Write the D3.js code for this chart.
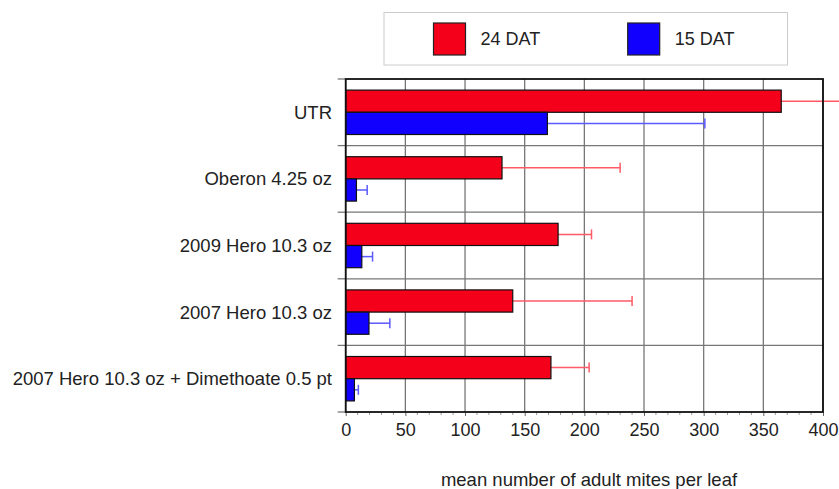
<!DOCTYPE html>
<html><head><meta charset="utf-8">
<script src="https://cdn.jsdelivr.net/npm/d3@7"></script>
<style>body{margin:0;background:#fff}text{font-family:"Liberation Sans",Arial,sans-serif;fill:#222}</style>
</head><body>
<svg id="c" width="839" height="489"></svg>
<script>
const categories = ["UTR","Oberon 4.25 oz","2009 Hero 10.3 oz","2007 Hero 10.3 oz","2007 Hero 10.3 oz + Dimethoate 0.5 pt"];
const seriesNames = ["24 DAT","15 DAT"];
const dat24 = [365, 131, 178, 140, 172];
const dat24Err = [75, 99, 28, 100, 32];
const dat15 = [169, 9, 13.5, 19.5, 7.3];
const dat15Err = [132, 9, 9, 17.5, 3.3];
const xTicks = [0,50,100,150,200,250,300,350,400];

const colors = ["#f5001a","#1200ff"];
const errColors = ["#ff5a66","#5a5aff"];
const svg = d3.select("#c");
const L = 345.7, R = 823, T = 79, B = 412;
const x = d3.scaleLinear().domain([0,400]).range([L,R]);
const y = d3.scaleBand().domain(categories).range([T,B]).paddingInner(0).paddingOuter(0);
const sub = d3.scaleBand().domain(seriesNames).range([0,y.bandwidth()]).paddingOuter(0.5).paddingInner(0);

// grid
svg.append("g").selectAll("line").data(xTicks).join("line")
  .attr("x1",d=>x(d)).attr("x2",d=>x(d)).attr("y1",T).attr("y2",B)
  .attr("stroke","#777").attr("stroke-width",1.3);
const seps = categories.slice(1).map(c=>y(c));
svg.append("g").selectAll("line").data(seps).join("line")
  .attr("x1",L).attr("x2",R).attr("y1",d=>d).attr("y2",d=>d)
  .attr("stroke","#777").attr("stroke-width",1.3);

// left axis ticks at band edges
const edges = categories.map(c=>y(c)).concat([B]);
svg.append("g").selectAll("line").data(edges).join("line")
  .attr("x1",L-8).attr("x2",L).attr("y1",d=>d).attr("y2",d=>d)
  .attr("stroke","#777").attr("stroke-width",1.3);

// x axis
const xAxis = d3.axisBottom(x).tickValues(xTicks).tickSize(4).tickPadding(5);
const gx = svg.append("g").attr("transform",`translate(0,${B})`).call(xAxis);
gx.select(".domain").remove();
gx.selectAll(".tick line").attr("stroke","#666");
gx.selectAll("text").style("font-size","18px").attr("fill","#222").attr("dy","0.85em");
const minor = d3.range(0,401,10).filter(v=>v%50!==0);
svg.append("g").selectAll("line").data(minor).join("line")
  .attr("x1",d=>x(d)).attr("x2",d=>x(d)).attr("y1",B).attr("y2",B+3)
  .attr("stroke","#999");

// category labels
svg.append("g").selectAll("text").data(categories).join("text")
  .attr("x",332).attr("y",d=>y(d)+y.bandwidth()/2).attr("dy","0.35em")
  .attr("text-anchor","end").style("font-size","18.5px").text(d=>d);

// bars
const series = [dat24, dat15];
const errs = [dat24Err, dat15Err];
series.forEach((vals,si)=>{
  const g = svg.append("g");
  const name = seriesNames[si];
  g.selectAll("line.e").data(vals).join("line").attr("class","e")
    .attr("x1",(d,i)=>x(d)).attr("x2",(d,i)=>x(d+errs[si][i]))
    .attr("y1",(d,i)=>y(categories[i])+sub(name)+sub.bandwidth()/2)
    .attr("y2",(d,i)=>y(categories[i])+sub(name)+sub.bandwidth()/2)
    .attr("stroke",errColors[si]).attr("stroke-width",1.5);
  g.selectAll("line.c").data(vals).join("line").attr("class","c")
    .attr("x1",(d,i)=>x(d+errs[si][i])).attr("x2",(d,i)=>x(d+errs[si][i]))
    .attr("y1",(d,i)=>y(categories[i])+sub(name)+sub.bandwidth()/2-5)
    .attr("y2",(d,i)=>y(categories[i])+sub(name)+sub.bandwidth()/2+5)
    .attr("stroke",errColors[si]).attr("stroke-width",1.5);
  g.selectAll("rect").data(vals).join("rect")
    .attr("x",x(0)).attr("y",(d,i)=>y(categories[i])+sub(name))
    .attr("width",d=>x(d)-x(0)).attr("height",sub.bandwidth())
    .attr("fill",colors[si]).attr("stroke","#111").attr("stroke-width",1.2);
});

// plot border
svg.append("rect").attr("x",L).attr("y",T).attr("width",R-L).attr("height",B-T)
  .attr("fill","none").attr("stroke","#111").attr("stroke-width",1.8);

// axis title
svg.append("text").attr("x",589).attr("y",486).attr("text-anchor","middle")
  .style("font-size","18.5px").text("mean number of adult mites per leaf");

// legend
const lg = svg.append("g");
lg.append("rect").attr("x",384).attr("y",12.5).attr("width",403.5).attr("height",52.5)
  .attr("fill","#fff").attr("stroke","#ccc").attr("stroke-width",1);
const lx = [433.5, 627.7];
seriesNames.forEach((n,i)=>{
  lg.append("rect").attr("x",lx[i]).attr("y",23).attr("width",32).attr("height",32)
    .attr("fill",colors[i]).attr("stroke","#222").attr("stroke-width",1.2);
  lg.append("text").attr("x",lx[i]+47).attr("y",39).attr("dy","0.35em")
    .style("font-size","18px").text(n);
});
</script>
</body></html>
